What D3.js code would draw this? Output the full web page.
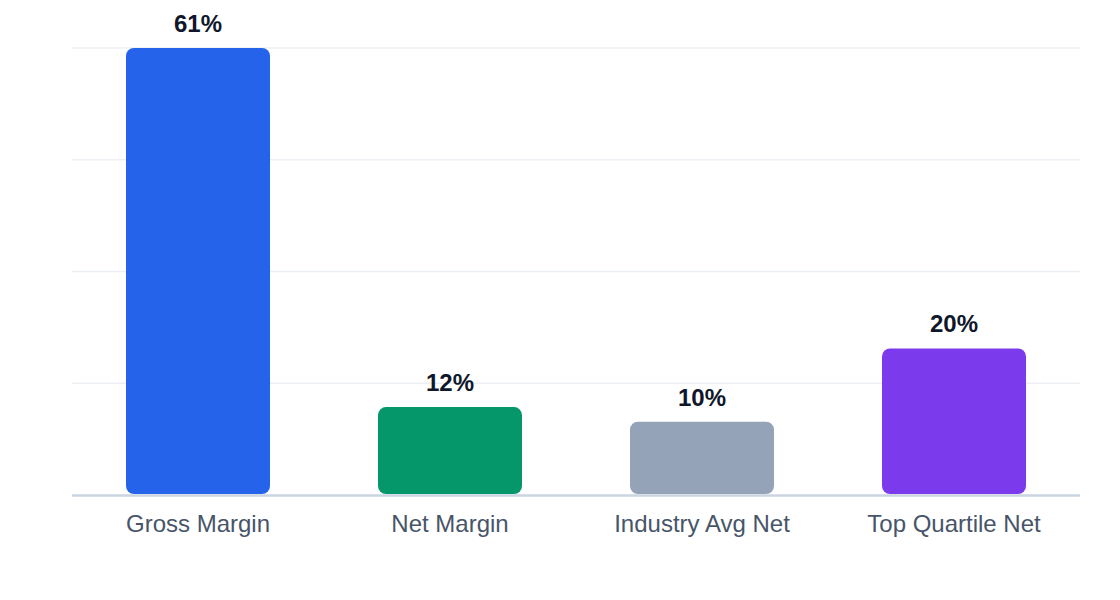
<!DOCTYPE html>
<html>
<head>
<meta charset="utf-8">
<script src="https://cdn.jsdelivr.net/npm/d3@7"></script>
<style>
  body { margin: 0; background: #fff; }
  svg { display: block; }
</style>
</head>
<body>
<script>
// data
var categories = ["Gross Margin", "Net Margin", "Industry Avg Net", "Top Quartile Net"];
var values = [61, 12, 10, 20];
var colors = ["#2563eb", "#059669", "#94a3b8", "#7c3aed"];

var w = 1120;
var h = 600;
var margin = { top: 48, right: 40, bottom: 105, left: 72 };

var svg = d3.select("body")
  .append("svg")
  .attr("width", w)
  .attr("height", h);

var x = d3.scaleBand()
  .domain(categories)
  .range([margin.left, w - margin.right])
  .paddingInner(0.4286)
  .paddingOuter(0.2143);

var y = d3.scaleLinear()
  .domain([0, d3.max(values)])
  .range([h - margin.bottom, margin.top]);

// gridlines: four equal steps up to the max
var gridTicks = d3.range(5).map(function(i) { return d3.max(values) * i / 4; });

svg.append("g")
  .selectAll("line")
  .data(gridTicks.slice(1))
  .enter()
  .append("line")
  .attr("x1", margin.left)
  .attr("x2", w - margin.right)
  .attr("y1", function(d) { return y(d); })
  .attr("y2", function(d) { return y(d); })
  .attr("stroke", "#eceff4")
  .attr("stroke-width", 1.5);

svg.append("g")
  .selectAll("rect")
  .data(values)
  .enter()
  .append("rect")
  .attr("x", function(d, i) { return x(categories[i]); })
  .attr("y", function(d) { return y(d); })
  .attr("width", x.bandwidth())
  .attr("height", function(d) { return y(0) - y(d) - 1; })
  .attr("rx", 8)
  .attr("ry", 8)
  .attr("fill", function(d, i) { return colors[i]; });

// baseline
svg.append("line")
  .attr("x1", margin.left)
  .attr("x2", w - margin.right)
  .attr("y1", y(0) + 0.5)
  .attr("y2", y(0) + 0.5)
  .attr("stroke", "#cbd5e1")
  .attr("stroke-width", 2.5);

// value labels
svg.append("g")
  .selectAll("text")
  .data(values)
  .enter()
  .append("text")
  .text(function(d) { return d + "%"; })
  .attr("x", function(d, i) { return x(categories[i]) + x.bandwidth() / 2; })
  .attr("y", function(d) { return y(d) - 16; })
  .attr("font-family", "'Liberation Sans', Arial, sans-serif")
  .attr("font-weight", "bold")
  .attr("font-size", "24px")
  .attr("fill", "#0f172a")
  .attr("text-anchor", "middle");

// category labels
svg.append("g")
  .selectAll("text")
  .data(categories)
  .enter()
  .append("text")
  .text(function(d) { return d; })
  .attr("x", function(d) { return x(d) + x.bandwidth() / 2; })
  .attr("y", y(0) + 37)
  .attr("font-family", "'Liberation Sans', Arial, sans-serif")
  .attr("font-size", "24px")
  .attr("fill", "#475569")
  .attr("text-anchor", "middle");
</script>
</body>
</html>
